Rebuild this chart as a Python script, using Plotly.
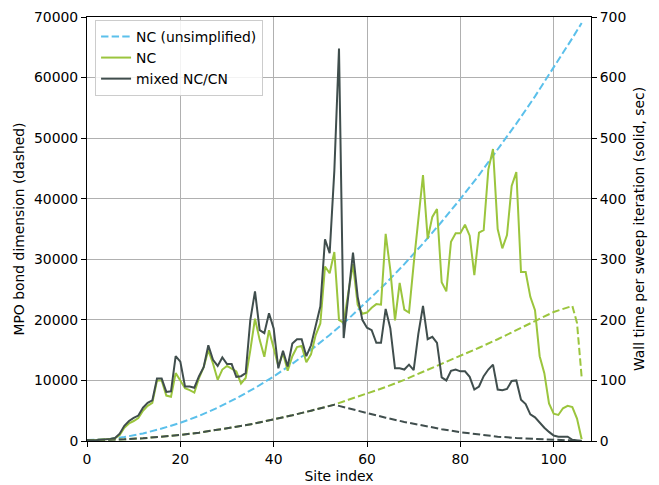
import plotly.graph_objects as go

# ---------------- data ----------------
sites = list(range(107))

# wall time per sweep iteration (seconds, right axis)
time_mixed = [
    0, 0.5, 1, 2, 3, 3.5, 5, 12, 25, 33,
    38, 42, 55, 63, 67, 103, 103, 81, 82, 140,
    131, 90, 90, 88, 107, 122, 158, 134, 124, 138,
    127, 127, 106, 107, 112, 200, 247, 183, 178, 211,
    186, 120, 149, 123, 161, 168, 168, 140, 158, 190,
    222, 333, 310, 446, 648, 170, 242, 311, 238, 200,
    187, 183, 162, 162, 218, 186, 120, 120, 118, 126,
    117, 177, 223, 168, 172, 162, 105, 100, 116, 118,
    115, 115, 106, 85, 90, 107, 118, 126, 85, 84,
    86, 99, 100, 68, 61, 44, 39, 30, 22, 15,
    9, 7, 7, 7, 2, 1, 0,
]
time_nc = [
    0, 0.5, 1, 2, 3, 3.5, 4.5, 10, 22, 29,
    33, 38, 50, 58, 63, 100, 100, 75, 73, 112,
    100, 87, 84, 80, 104, 122, 150, 128, 101, 118,
    124, 120, 115, 95, 104, 150, 202, 167, 139, 183,
    155, 124, 145, 116, 140, 155, 157, 130, 143, 175,
    194, 288, 277, 312, 200, 195, 245, 292, 225, 210,
    212, 220, 226, 225, 342, 282, 199, 261, 217, 212,
    292, 370, 439, 334, 370, 383, 262, 247, 329, 343,
    343, 357, 339, 274, 344, 348, 448, 482, 350, 318,
    340, 421, 444, 279, 279, 238, 216, 140, 112, 62,
    45, 43, 54, 58, 56, 37, 3,
]

# MPO bond dimension (left axis)
bd_unsimp_x = [0, 4, 8, 12, 16, 20, 24, 28, 32, 36, 40, 44, 48, 52, 56,
               60, 64, 68, 72, 76, 80, 84, 88, 92, 96, 100, 104, 106]
bd_unsimp = [150, 250, 650, 1250, 2050, 3000, 4150, 5500, 7050, 8750, 10650,
             12750, 15050, 17500, 20150, 23000, 26000, 29200, 32600, 36200,
             39950, 43900, 48050, 52400, 56900, 61600, 66500, 69000]

bd_nc_x = [0, 4, 8, 12, 16, 20, 24, 28, 32, 36, 40, 44, 48, 52, 53, 56,
           60, 64, 68, 72, 76, 80, 84, 88, 92, 96, 100, 104, 105, 106]
bd_nc = [150, 180, 280, 450, 700, 1000, 1380, 1830, 2350, 2900, 3550, 4250,
         5000, 5800, 6000, 6800, 7800, 8900, 10100, 11400, 12700, 14000,
         15400, 16800, 18300, 19800, 21300, 22300, 19500, 10500]

bd_mixed_x = [0, 4, 8, 12, 16, 20, 24, 28, 32, 36, 40, 44, 48, 52, 53, 56,
              60, 64, 68, 72, 76, 80, 84, 88, 92, 96, 100, 104, 106]
bd_mixed = [150, 180, 280, 450, 700, 1000, 1380, 1830, 2350, 2900, 3550, 4250,
            5000, 5800, 6000, 5400, 4600, 3850, 3150, 2500, 1950, 1450, 1050,
            720, 500, 350, 250, 80, 0]

labels = ["NC (unsimplified)", "NC", "mixed NC/CN"]
C_BLUE = "#5bc0eb"
C_GREEN = "#9bc53d"
C_DARK = "#404e4d"

FONT = "DejaVu Sans"
FS = 13.9
DASH = "7.4px,3.2px"

fig = go.Figure()

# dashed (left axis)
fig.add_trace(go.Scatter(x=bd_unsimp_x, y=bd_unsimp, mode="lines", name=labels[0],
                         line=dict(color=C_BLUE, width=2, dash=DASH), yaxis="y"))
fig.add_trace(go.Scatter(x=bd_nc_x, y=bd_nc, mode="lines", showlegend=False,
                         line=dict(color=C_GREEN, width=2, dash=DASH), yaxis="y"))
fig.add_trace(go.Scatter(x=bd_mixed_x, y=bd_mixed, mode="lines", showlegend=False,
                         line=dict(color=C_DARK, width=2, dash=DASH), yaxis="y"))

# solid (right axis)
fig.add_trace(go.Scatter(x=sites, y=time_nc, mode="lines", name=labels[1],
                         line=dict(color=C_GREEN, width=2), yaxis="y2"))
fig.add_trace(go.Scatter(x=sites, y=time_mixed, mode="lines", name=labels[2],
                         line=dict(color=C_DARK, width=2), yaxis="y2"))

axis_common = dict(
    showline=True, linecolor="black", linewidth=1,
    ticks="outside", ticklen=5, tickwidth=1, tickcolor="black",
    tickfont=dict(family=FONT, size=FS, color="black"),
    zeroline=False, automargin=False, tickformat="d",
)

fig.update_layout(
    template="none",
    width=659, height=485,
    margin=dict(l=87, r=68, t=17, b=44, autoexpand=False),
    plot_bgcolor="white", paper_bgcolor="white",
    font=dict(family=FONT, size=FS, color="black"),
    xaxis=dict(
        range=[0, 108], dtick=20, tick0=0, mirror=True,
        showgrid=True, gridcolor="#b0b0b0", gridwidth=1,
        title=dict(text="Site index", font=dict(family=FONT, size=FS), standoff=5),
        **axis_common,
    ),
    yaxis=dict(
        range=[0, 70000], dtick=10000, tick0=0,
        showgrid=True, gridcolor="#b0b0b0", gridwidth=1,
        title=dict(text="MPO bond dimension (dashed)", font=dict(family=FONT, size=FS), standoff=6),
        **axis_common,
    ),
    yaxis2=dict(
        range=[0, 700], dtick=100, tick0=0, overlaying="y", side="right",
        showgrid=False,
        title=dict(text="Wall time per sweep iteration (solid, sec)", font=dict(family=FONT, size=FS), standoff=8),
        **axis_common,
    ),
    legend=dict(
        x=0.016, y=0.993, xanchor="left", yanchor="top",
        bgcolor="rgba(255,255,255,0.85)", bordercolor="#cccccc", borderwidth=1,
        font=dict(family=FONT, size=FS), itemwidth=30,
        tracegroupgap=0,
    ),
    showlegend=True,
)

fig.write_html("out.html", config={"displayModeBar": False},
               post_script="document.body.style.margin='0px';")
